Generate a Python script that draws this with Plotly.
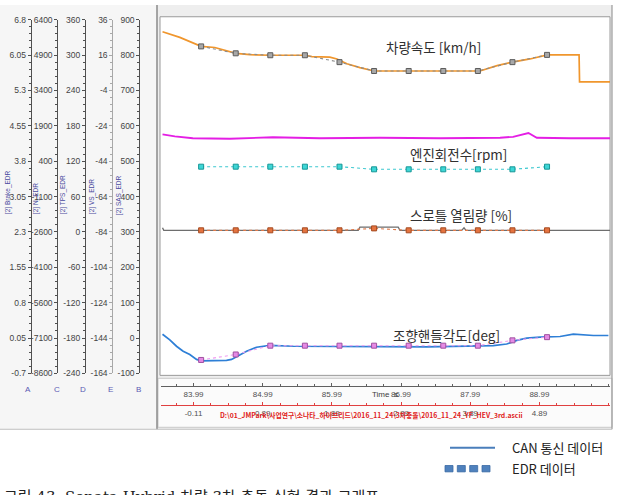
import plotly.graph_objects as go

W, H = 621, 495

# ---------------- data ----------------
# CAN vehicle speed [km/h]  (VS_EDR axis "E")
can_speed_t = [83.542, 83.792, 84.100, 84.298, 84.602, 84.804, 85.104, 85.604, 85.701, 85.961,
               86.063, 86.207, 86.395, 86.602, 88.131, 88.377, 88.598, 88.854, 89.104, 89.563,
               89.570, 90.011]
can_speed_v = [29.2, 26.0, 20.9, 20.3, 17.0, 16.2, 15.9, 15.9, 15.1, 14.8,
               13.8, 11.1, 8.9, 7.0, 7.0, 10.0, 12.0, 13.8, 16.1, 16.1,
               0.9, 0.9]

# CAN engine speed [rpm]  (N_EDR axis "C")
can_rpm_t = [83.542, 83.720, 83.980, 84.515, 85.137, 85.817, 86.685, 87.553, 88.421, 88.609,
             88.831, 88.952, 89.432, 90.011]
can_rpm_v = [1539, 1456, 1372, 1352, 1414, 1372, 1393, 1372, 1393, 1435,
             1593, 1393, 1372, 1372]

# CAN throttle opening [%]  (TPS_EDR axis "D")
can_tps_t = [83.542, 83.560, 86.371, 86.395, 86.949, 86.974, 87.866, 87.900, 87.928, 90.011]
can_tps_v = [7.2, 2.7, 2.7, 8.1, 8.1, 2.7, 2.7, 7.1, 2.7, 2.7]

# CAN steering wheel angle [deg]  (SAS_EDR axis "B")
can_sas_t = [83.542, 83.647, 83.744, 83.840, 83.936, 84.033, 84.106, 84.273, 84.467, 84.540,
             84.660, 84.757, 84.901, 85.094, 85.431, 86.395, 87.360, 88.323, 88.517, 88.662,
             88.806, 88.999, 89.288, 89.480, 89.770, 89.987]
can_sas_v = [10.8, -5.0, -23.2, -37.1, -46.5, -60.4, -64.8, -64.8, -63.1, -60.4,
             -48.2, -37.1, -26.0, -20.5, -23.2, -25.2, -25.2, -21.6, -16.9, -6.6,
             -0.3, 2.5, 4.4, 10.8, 7.2, 7.2]

# EDR data (0.5 s interval), EDR time 0 = 84.10 s
edr_t0 = 84.10
edr_rel_t = [0.0, 0.5, 1.0, 1.5, 2.0, 2.5, 3.0, 3.5, 4.0, 4.5, 5.0]
edr_speed = [20.9, 17.0, 15.9, 15.9, 12.0, 7.0, 7.0, 7.0, 7.0, 12.0, 16.1]
edr_rpm = [167, 167, 167, 167, 167, 55, 55, 55, 55, 55, 167]
edr_tps = [2.7, 2.7, 2.7, 2.7, 2.7, 6.0, 2.7, 2.7, 2.7, 2.7, 2.7]
edr_sas = [-62.0, -46.5, -21.6, -21.6, -21.6, -21.6, -21.6, -21.6, -21.6, -6.6, 2.5]

# axis tick labels
brake_ticks = [-0.7, 0.05, 0.8, 1.55, 2.3, 3.05, 3.8, 4.55, 5.3, 6.05, 6.8]
n_ticks = [-8600, -7100, -5600, -4100, -2600, -1100, 400, 1900, 3400, 4900, 6400]
tps_ticks = [-240, -180, -120, -60, 0, 60, 120, 180, 240, 300, 360]
vs_ticks = [-164, -144, -124, -104, -84, -64, -44, -24, -4, 16, 36]
sas_ticks = [-100, 0, 100, 200, 300, 400, 500, 600, 700, 800, 900]
time_ticks = [83.99, 84.99, 85.99, 86.99, 87.99, 88.99]
rel_ticks = [-0.11, 0.89, 1.89, 2.89, 3.89, 4.89]
time_range = [83.52, 90.01]

axis_names = ["[2] Brake_EDR", "[2] N_EDR", "[2] TPS_EDR", "[2] VS_EDR", "[2] SAS_EDR"]
axis_letters = ["A", "C", "D", "E", "B"]


def PX(x):
    return x / W


def PY(y):
    return 1 - y / H


edr_t = [edr_t0 + r for r in edr_rel_t]

fig = go.Figure()

# dummy traces so every axis is drawn
fig.add_trace(go.Scatter(x=[None], y=[None], xaxis="x", yaxis="y", showlegend=False, hoverinfo="skip"))
fig.add_trace(go.Scatter(x=[None], y=[None], xaxis="x2", yaxis="y", showlegend=False, hoverinfo="skip"))
fig.add_trace(go.Scatter(x=[None], y=[None], xaxis="x3", yaxis="y", showlegend=False, hoverinfo="skip"))

# CAN lines
fig.add_trace(go.Scatter(x=can_speed_t, y=can_speed_v, yaxis="y4", mode="lines",
                         line=dict(color="#f0962d", width=1.7), showlegend=False))
fig.add_trace(go.Scatter(x=can_rpm_t, y=can_rpm_v, yaxis="y2", mode="lines",
                         line=dict(color="#e41ee4", width=1.8), showlegend=False))
fig.add_trace(go.Scatter(x=can_tps_t, y=can_tps_v, yaxis="y3", mode="lines",
                         line=dict(color="#6e6e6e", width=1.3), showlegend=False))
fig.add_trace(go.Scatter(x=can_sas_t, y=can_sas_v, yaxis="y5", mode="lines",
                         line=dict(color="#2e7fd6", width=1.7), showlegend=False))

# EDR markers
edr_styles = [
    (edr_speed, "y4", "#a8a8a8", "#5c5c5c", "#8c8c8c"),
    (edr_rpm, "y2", "#3dd6d6", "#169696", "#3cc8d0"),
    (edr_tps, "y3", "#e5733f", "#a44a20", "#e07a4a"),
    (edr_sas, "y5", "#e58ae5", "#a050a0", "#f09af0"),
]
for vals, ya, fillc, edgec, linec in edr_styles:
    fig.add_trace(go.Scatter(x=edr_t, y=vals, yaxis=ya, mode="lines+markers",
                             line=dict(color=linec, width=1.1, dash="dot"),
                             marker=dict(symbol="square", size=5, color=fillc,
                                         line=dict(color=edgec, width=1)),
                             showlegend=False))

tickfont = dict(family="Liberation Sans, Arial, sans-serif", size=8.5, color="#444444")


def yax(rng, ticks, pos, step, lc="#505050", overlay=True):
    d = dict(domain=[PY(376), PY(15)], range=rng, anchor="free", position=PX(pos), side="left",
             showline=True, linecolor=lc, linewidth=1, showgrid=False, zeroline=False,
             ticks="outside", ticklen=3, tickcolor=lc, tickwidth=1,
             tickmode="array", tickvals=ticks, ticktext=[f"{v:g}" for v in ticks],
             tickfont=tickfont, fixedrange=True,
             minor=dict(ticks="outside", ticklen=2, tickcolor=lc, tick0=rng[0], dtick=step / 5))
    if overlay:
        d["overlaying"] = "y"
    return d


rel_range = [time_range[0] - edr_t0, time_range[1] - edr_t0]

layout = dict(
    width=W, height=H, margin=dict(l=0, r=0, t=0, b=0),
    paper_bgcolor="white", plot_bgcolor="rgba(0,0,0,0)", showlegend=False,
    xaxis=dict(domain=[PX(161), PX(610)], range=time_range, visible=False, anchor="y", fixedrange=True),
    xaxis2=dict(overlaying="x", anchor="free", position=PY(389), range=time_range, side="bottom",
                showline=True, linecolor="#606060", linewidth=1, showgrid=False, zeroline=False,
                ticks="inside", ticklen=3, tickcolor="#606060",
                tickmode="array", tickvals=time_ticks, ticktext=[f"{v:.2f}" for v in time_ticks],
                tickfont=dict(family="Liberation Sans, Arial", size=8, color="#505050"),
                minor=dict(ticks="inside", ticklen=2, tickcolor="#606060", tick0=83.99, dtick=0.25),
                fixedrange=True),
    xaxis3=dict(overlaying="x", anchor="free", position=PY(408.3), range=rel_range, side="bottom",
                showline=True, linecolor="#e04040", linewidth=1, showgrid=False, zeroline=False,
                ticks="inside", ticklen=3, tickcolor="#e04040",
                tickmode="array", tickvals=rel_ticks, ticktext=[f"{v:.2f}" for v in rel_ticks],
                tickfont=dict(family="Liberation Sans, Arial", size=8, color="#505050"),
                minor=dict(ticks="inside", ticklen=2, tickcolor="#e04040", tick0=-0.11, dtick=0.25),
                fixedrange=True),
    yaxis=yax([-0.7, 6.8], brake_ticks, 30.7, 0.75, overlay=False),
    yaxis2=yax([-8600, 6400], n_ticks, 57.3, 1500),
    yaxis3=yax([-240, 360], tps_ticks, 85, 60),
    yaxis4=yax([-164, 36], vs_ticks, 112.3, 20, lc="#a8a8a8"),
    yaxis5=yax([-100, 900], sas_ticks, 139.3, 100),
)


def rect(x0, y0, x1, y1, fill, line=None, width=0, layer="below"):
    return dict(type="rect", xref="paper", yref="paper", x0=PX(x0), x1=PX(x1), y0=PY(y1), y1=PY(y0),
                fillcolor=fill, line=dict(color=line or fill, width=width), layer=layer)


def seg(x0, y0, x1, y1, color, width=1, layer="below"):
    return dict(type="line", xref="paper", yref="paper", x0=PX(x0), x1=PX(x1), y0=PY(y0), y1=PY(y1),
                line=dict(color=color, width=width), layer=layer)


shapes = [
    rect(0, 0, 612, 433, "#eeeeee"),
    rect(0, 0, 157, 433, "#f6f6f6"),
    rect(160, 12, 610, 378, "white", "#9a9a9a", 1),
    rect(158, 381, 612, 431, "#fbfbfb", "#c8c8c8", 1),
    seg(157, 0, 157, 433, "#8a8a8a", 1.5),
    seg(612, 0, 612, 433, "#9a9a9a", 1.2),
    seg(0, 433, 612, 433, "#c0c0c0", 1),
    # document legend
    seg(450, 452, 495, 452, "#4a7ebb", 2, "above"),
]
for sx in [445, 457.3, 469.7, 482]:
    shapes.append(rect(sx, 470, sx + 8, 476.5, "#4f81bd", "#3a6aa5", 0.8, "above"))

layout["shapes"] = shapes

ann = []


def text(x, y, s, size, color="#303030", family="Noto Sans CJK KR, sans-serif", xanchor="center",
         yanchor="middle", angle=0):
    ann.append(dict(x=PX(x), y=PY(y), xref="paper", yref="paper", text=s, showarrow=False,
                    font=dict(family=family, size=size, color=color), xanchor=xanchor, yanchor=yanchor,
                    textangle=angle))


text(433, 43, "차량속도 [km/h]", 13.5)
text(459, 152, "엔진회전수[rpm]", 13.5)
text(461, 214, "스로틀 열림량 [%]", 13.5)
text(446, 337, "조향핸들각도[deg]", 13.5)

for xpos, nm in zip([7.5, 36, 63, 92, 118.5], axis_names):
    text(xpos, 216, nm, 6.5, color="#4a4aa0", family="Liberation Sans, Arial", yanchor="bottom", angle=-90)
for xpos, lt in zip([28.3, 56.7, 83.3, 110.7, 138.3], axis_letters):
    text(xpos, 392, lt, 8, color="#5a5ab4", family="Liberation Sans, Arial")

text(385, 397.5, "Time  s", 8, color="#404040", family="Liberation Sans, Arial")
text(371.5, 418, "<b>D:\\01_JMPark\\사업연구\\소나타_하이브리드\\2016_11_24\\3차충돌\\2016_11_24_YF_HEV_3rd.ascii</b>",
     6.8, color="#e02020")

text(510, 452, "CAN 통신 데이터", 13, color="#222222", xanchor="left")
text(510, 473, "EDR 데이터", 13, color="#222222", xanchor="left")

text(2, 490.5, "그림 43. Sonata Hybrid 차량 3차 충돌 실험 결과 그래프", 15, color="#222222",
     family="DejaVu Serif, Noto Sans CJK KR, serif", xanchor="left", yanchor="top")

layout["annotations"] = ann
fig.update_layout(**layout)

fig.write_html("out.html")
